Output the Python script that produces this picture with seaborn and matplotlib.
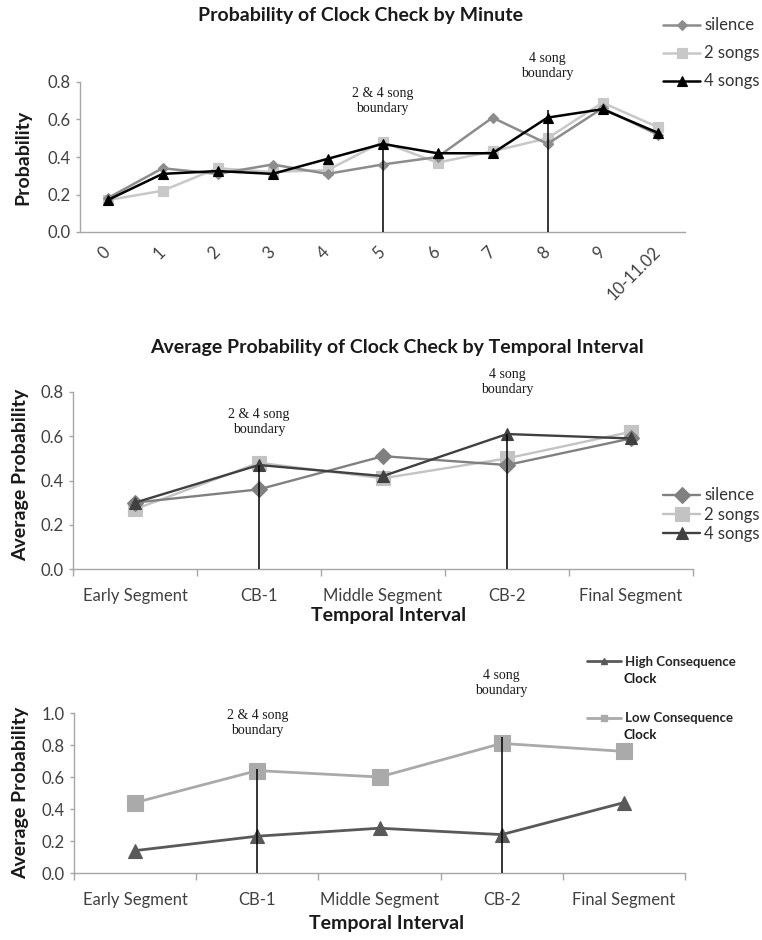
import numpy as np
import pandas as pd
import matplotlib
matplotlib.use("Agg")
import matplotlib.pyplot as plt
import seaborn as sns
from matplotlib.lines import Line2D

# ---------------- data ----------------
minutes = ["0", "1", "2", "3", "4", "5", "6", "7", "8", "9", "10-11.02"]
silence_min = [0.18, 0.34, 0.31, 0.36, 0.31, 0.36, 0.40, 0.61, 0.47, 0.66, 0.52]
two_songs_min = [0.17, 0.22, 0.34, 0.32, 0.33, 0.48, 0.37, 0.43, 0.50, 0.69, 0.56]
four_songs_min = [0.17, 0.31, 0.325, 0.31, 0.39, 0.47, 0.42, 0.42, 0.61, 0.655, 0.53]
min_boundaries = ["5", "8"]
min_boundary_tops = [0.48, 0.65]

intervals = ["Early Segment", "CB-1", "Middle Segment", "CB-2", "Final Segment"]
silence_int = [0.30, 0.36, 0.51, 0.47, 0.59]
two_songs_int = [0.27, 0.48, 0.41, 0.50, 0.62]
four_songs_int = [0.30, 0.47, 0.42, 0.61, 0.59]
int_boundaries = ["CB-1", "CB-2"]
int_boundary_tops = [0.47, 0.61]

high_clock = [0.14, 0.23, 0.28, 0.24, 0.44]
low_clock = [0.44, 0.64, 0.60, 0.81, 0.76]
clock_boundary_tops = [0.65, 0.85]

boundary_labels = ["2 & 4 song\nboundary", "4 song\nboundary"]

# ---------------- style ----------------
sns.set_style("white")
plt.rcParams["font.family"] = ["Lato", "DejaVu Sans"]
SERIF = ["Liberation Serif", "DejaVu Serif"]
SPINE = "#a6a6a6"
TICKTXT = "#404040"
DARK = "#1a1a1a"

W, H = 762, 940
fig = plt.figure(figsize=(W / 100, H / 100), dpi=100)


def add_ax(l, t, r, b):
    return fig.add_axes([l / W, 1 - b / H, (r - l) / W, (b - t) / H])


def style_axes(ax, ymax):
    for s in ["top", "right"]:
        ax.spines[s].set_visible(False)
    for s in ["left", "bottom"]:
        ax.spines[s].set_color(SPINE)
        ax.spines[s].set_linewidth(1.0)
    ticks = np.arange(0, ymax + 1e-9, 0.2)
    ax.set_ylim(0, ymax)
    ax.set_yticks(ticks)
    ax.set_yticklabels([f"{v:.1f}" for v in ticks])
    ax.tick_params(axis="y", length=3, width=1, color=SPINE, labelsize=12,
                   labelcolor=TICKTXT, pad=4, left=True)
    ax.set_xlabel("")
    ax.set_ylabel("")
    ax.grid(False)


def draw_series(ax, cats, vals, color, marker, ms, lw, label, z):
    df = pd.DataFrame({"pos": np.arange(len(cats)), "p": vals})
    sns.lineplot(data=df, x="pos", y="p", ax=ax, color=color, marker=marker,
                 markersize=ms, linewidth=lw, markeredgecolor=color,
                 markeredgewidth=0.8, label=label, sort=False, zorder=z,
                 legend=False)


def draw_boundaries(ax, cats, names, tops, label_ys):
    for name, top, lab, y1 in zip(names, tops, boundary_labels, label_ys):
        xp = cats.index(name)
        ax.vlines(xp, 0, top, color="black", linewidth=1.1, zorder=5)
        ax.text(xp, y1, lab, ha="center", va="center", family=SERIF,
                fontsize=10, color=DARK, clip_on=False, linespacing=1.2)


# ================= chart 1 =================
ax1 = add_ax(80, 82, 685, 232)
draw_series(ax1, minutes, silence_min, "#8c8c8c", "D", 5.5, 1.8, "silence", 3)
draw_series(ax1, minutes, two_songs_min, "#c8c8c8", "s", 7, 1.8, "2 songs", 2)
draw_series(ax1, minutes, four_songs_min, "black", "^", 7.5, 1.8, "4 songs", 4)
style_axes(ax1, 0.8)
ax1.set_xlim(-0.5, len(minutes) - 0.5)
ax1.set_xticks(np.arange(len(minutes)))
ax1.set_xticklabels(minutes, rotation=45, ha="right", va="center",
                    rotation_mode="anchor")
ax1.tick_params(axis="x", length=0, labelsize=12, labelcolor=TICKTXT, pad=13)
draw_boundaries(ax1, minutes, min_boundaries, min_boundary_tops, [0.70, 0.885])
fig.text(360 / W, 1 - 16 / H, "Probability of Clock Check by Minute",
         ha="center", va="center", fontsize=14, fontweight="bold", color=DARK)
fig.text(23 / W, 1 - 157 / H, "Probability", rotation=90, ha="center",
         va="center", fontsize=14, fontweight="bold", color=DARK)
h, l = ax1.get_legend_handles_labels()
fig.legend(h, l, loc="upper left", bbox_to_anchor=(655 / W, 1 - 9 / H),
           frameon=False, fontsize=12, labelspacing=0.72, handlelength=2.2,
           handletextpad=0.25, borderpad=0, labelcolor="#333333")

# ================= chart 2 =================
ax2 = add_ax(73, 392, 693, 569)
draw_series(ax2, intervals, silence_int, "#808080", "D", 8, 1.7, "silence", 3)
draw_series(ax2, intervals, two_songs_int, "#c3c3c3", "s", 10.5, 1.7, "2 songs", 2)
draw_series(ax2, intervals, four_songs_int, "#404040", "^", 9, 1.7, "4 songs", 4)
style_axes(ax2, 0.8)
ax2.set_xlim(-0.5, len(intervals) - 0.5)
ax2.set_xticks(np.arange(len(intervals)))
ax2.set_xticklabels(intervals)
ax2.set_xticks(np.arange(len(intervals) + 1) - 0.5, minor=True)
ax2.tick_params(axis="x", which="major", length=0, labelsize=12,
                labelcolor=TICKTXT, pad=14)
ax2.tick_params(axis="x", which="minor", length=5, width=1, color=SPINE, bottom=True)
draw_boundaries(ax2, intervals, int_boundaries, int_boundary_tops, [0.665, 0.845])
fig.text(397 / W, 1 - 348 / H,
         "Average Probability of Clock Check by Temporal Interval",
         ha="center", va="center", fontsize=14, fontweight="bold", color=DARK)
fig.text(21 / W, 1 - 475 / H, "Average Probability", rotation=90, ha="center",
         va="center", fontsize=14, fontweight="bold", color=DARK)
fig.text(389 / W, 1 - 616 / H, "Temporal Interval", ha="center", va="center",
         fontsize=14, fontweight="bold", color=DARK)
h, l = ax2.get_legend_handles_labels()
fig.legend(h, l, loc="upper left", bbox_to_anchor=(655 / W, 1 - 479 / H),
           frameon=False, fontsize=12, labelspacing=0.2, handlelength=2.2,
           handletextpad=0.25, borderpad=0, labelcolor="#333333")

# ================= chart 3 =================
ax3 = add_ax(74, 713, 685, 873)
draw_series(ax3, intervals, low_clock, "#aaaaaa", "s", 11, 2.0, "Low Consequence", 2)
draw_series(ax3, intervals, high_clock, "#595959", "^", 10, 2.0, "High Consequence", 3)
style_axes(ax3, 1.0)
ax3.set_xlim(-0.5, len(intervals) - 0.5)
ax3.set_xticks(np.arange(len(intervals)))
ax3.set_xticklabels(intervals)
ax3.set_xticks(np.arange(len(intervals) + 1) - 0.5, minor=True)
ax3.tick_params(axis="x", which="major", length=0, labelsize=12,
                labelcolor=TICKTXT, pad=14)
ax3.tick_params(axis="x", which="minor", length=5, width=1, color=SPINE, bottom=True)
draw_boundaries(ax3, intervals, int_boundaries, clock_boundary_tops, [0.94, 1.185])
fig.text(21 / W, 1 - 793 / H, "Average Probability", rotation=90, ha="center",
         va="center", fontsize=14, fontweight="bold", color=DARK)
fig.text(387 / W, 1 - 923 / H, "Temporal Interval", ha="center", va="center",
         fontsize=14, fontweight="bold", color=DARK)

leg_handles = [Line2D([], [], color="#595959", marker="^", markersize=5, linewidth=2.0),
               Line2D([], [], color="#aaaaaa", marker="s", markersize=5, linewidth=2.0)]
fig.legend(leg_handles, ["High Consequence", "Low Consequence"], loc="upper left",
           bbox_to_anchor=(580 / W, 1 - 649 / H), frameon=False,
           labelspacing=3.4, handlelength=2.6, handletextpad=0.3, borderpad=0,
           prop={"weight": "bold", "size": 9.5})
for yy in [679, 735]:
    fig.text(623 / W, 1 - yy / H, "Clock", ha="left", va="center",
             fontsize=9.5, fontweight="bold", color=DARK)

fig.savefig("out.png", dpi=100)
